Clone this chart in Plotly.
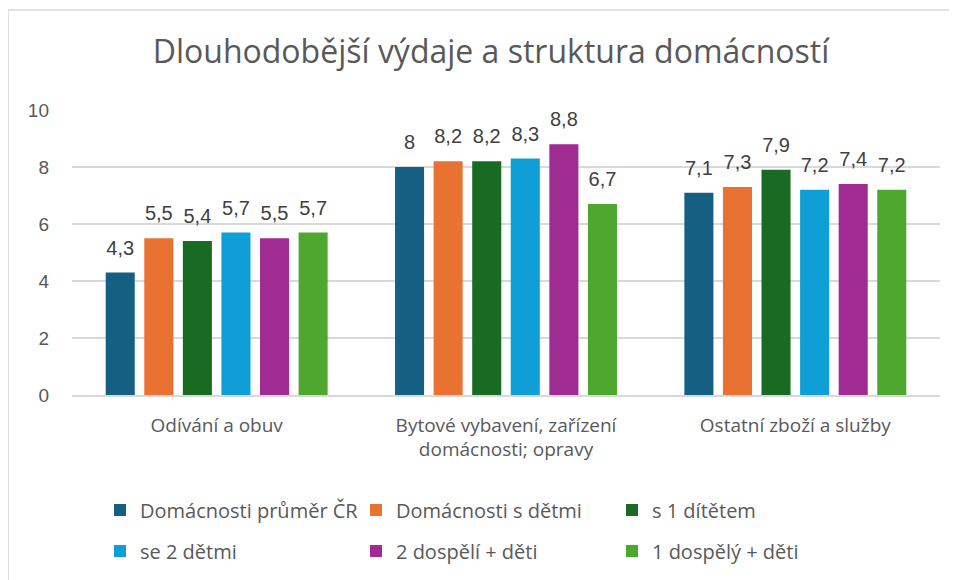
import plotly.graph_objects as go

categories = ["Odívání a obuv", "Bytové vybavení, zařízení<br>domácnosti; opravy", "Ostatní zboží a služby"]
series_names = ["Domácnosti průměr ČR", "Domácnosti s dětmi", "s 1 dítětem",
                "se 2 dětmi", "2 dospělí + děti", "1 dospělý + děti"]
prumer_cr = [4.3, 8.0, 7.1]
s_detmi = [5.5, 8.2, 7.3]
s_1_ditetem = [5.4, 8.2, 7.9]
se_2_detmi = [5.7, 8.3, 7.2]
dva_dospeli = [5.5, 8.8, 7.4]
jeden_dospely = [5.7, 6.7, 7.2]
series_values = [prumer_cr, s_detmi, s_1_ditetem, se_2_detmi, dva_dospeli, jeden_dospely]
colors = ["#156082", "#E97132", "#196B24", "#0F9ED5", "#A02B93", "#4EA72E"]
y_ticks = [0, 2, 4, 6, 8, 10]

def fmt(v):
    s = ("%g" % v)
    return s.replace(".", ",")

# page shows the figure offset by the body margin (8 px)
OFF = 8
L, T, PW, PH = 72 - OFF, 110 - OFF, 868, 285
BARGAP = 0.2

fig = go.Figure()
for i, (name, vals, col) in enumerate(zip(series_names, series_values, colors)):
    fig.add_trace(go.Bar(
        x=categories, y=vals, name=name,
        marker=dict(color=col, line=dict(width=0)),
        legend="legend" if i < 3 else "legend2",
    ))
# data labels, grouped like the bars
for name, vals in zip(series_names, series_values):
    fig.add_trace(go.Scatter(
        x=categories, y=vals, mode="markers+text", showlegend=False, hoverinfo="skip",
        text=[fmt(v) for v in vals], textposition="top center",
        marker=dict(size=19, opacity=0, color="white"),
        textfont=dict(family="Liberation Sans, Arial", size=20, color="#404040"),
        cliponaxis=False,
    ))

legend_common = dict(
    orientation="h", xanchor="left", yanchor="middle",
    xref="container", yref="container",
    font=dict(family="Open Sans", size=20, color="#595959"),
    entrywidth=211, entrywidthmode="pixels", bgcolor="rgba(0,0,0,0)",
)

fig.update_layout(
    width=957, height=580,
    margin=dict(l=L, r=957 - L - PW, t=T, b=580 - T - PH, autoexpand=False),
    paper_bgcolor="white", plot_bgcolor="white",
    title=dict(text="Dlouhodobější výdaje a struktura domácností",
               x=(491 - OFF) / 957, xanchor="center", y=1 - (52 - OFF) / 580, yanchor="middle",
               yref="container",
               font=dict(family="Open Sans", size=32, color="#595959")),
    barmode="group", bargap=BARGAP, bargroupgap=0.247,
    scattermode="group", scattergap=BARGAP,
    showlegend=True,
    legend=dict(x=(100 - OFF) / 957, y=1 - (510 - OFF) / 580, **legend_common),
    legend2=dict(x=(100 - OFF) / 957, y=1 - (551 - OFF) / 580, **legend_common),
    xaxis=dict(showgrid=False, showline=True, linecolor="#d9d9d9", linewidth=1.5,
               ticks="", ticklabelstandoff=12, automargin=False,
               tickfont=dict(family="Open Sans", size=19, color="#595959")),
    yaxis=dict(range=[0, 10], tickvals=y_ticks, showgrid=True, gridcolor="#d9d9d9",
               gridwidth=1.5, zeroline=False, showline=False, ticks="",
               ticklabelstandoff=22, automargin=False,
               tickfont=dict(family="Liberation Sans, Arial", size=19, color="#595959")),
    shapes=[dict(type="rect", xref="paper", yref="paper",
                 x0=(8 - OFF - L) / PW, x1=(985 - L) / PW,
                 y0=(T + PH - 600) / PH, y1=(T + PH - (10 - OFF)) / PH,
                 line=dict(color="#d9d9d9", width=1.5), fillcolor="rgba(0,0,0,0)",
                 layer="below")],
)

fig.write_html("out.html")
